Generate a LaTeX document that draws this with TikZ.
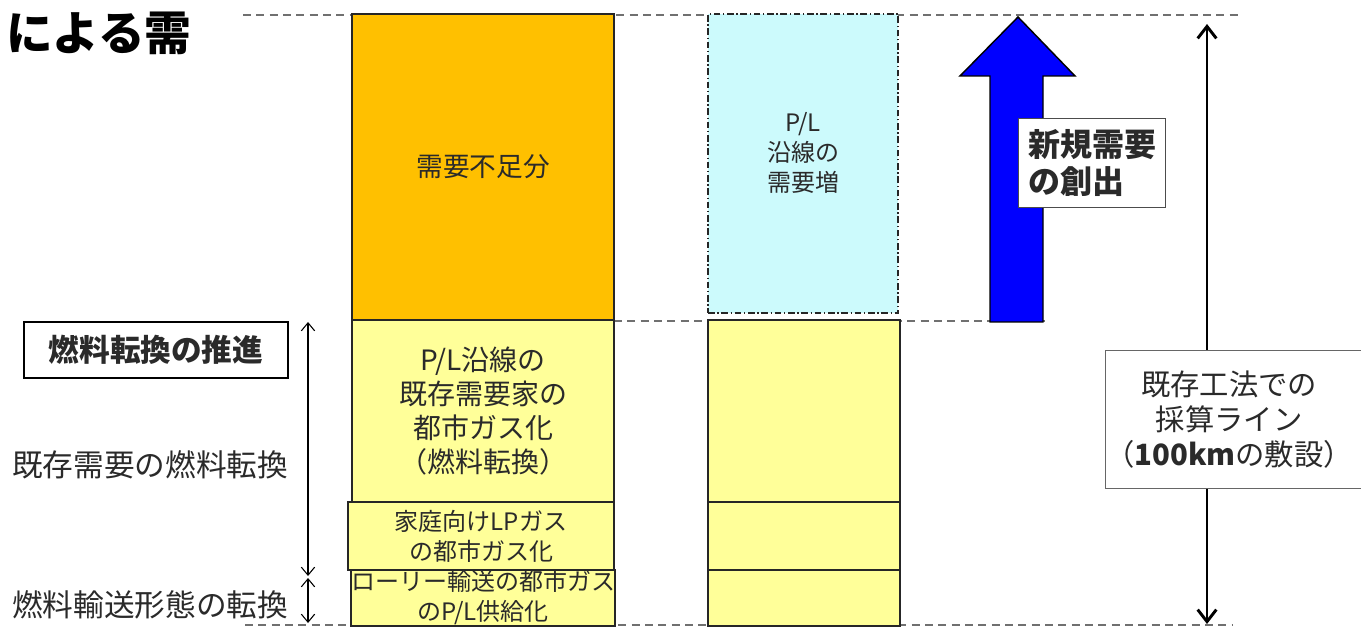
\documentclass[tikz,border=0pt]{standalone}
\usepackage{fontspec}
\setmainfont{Noto Sans CJK JP}
\usetikzlibrary{arrows.meta}
\definecolor{orangebox}{HTML}{FFC000}
\definecolor{yellowbox}{HTML}{FFFF99}
\definecolor{cyanbox}{HTML}{CCFAFC}
\definecolor{txt}{HTML}{2A2A2A}
\definecolor{dashgray}{HTML}{707070}
\definecolor{bluearrow}{HTML}{0000FF}
\begin{document}
\begin{tikzpicture}[x=0.75pt,y=-0.75pt,
  guide/.style={draw=dashgray, line width=1.5pt, dash pattern=on 6pt off 4pt},
  barbox/.style={draw=black!85, line width=0.9pt, inner sep=0pt, text=txt, align=center},
  col1/.style={barbox, minimum width=196.5pt},
  col2/.style={barbox, minimum width=144pt},
  bigtxt/.style={font=\fontsize{21}{25.5}\selectfont},
  smalltxt/.style={font=\fontsize{18}{22.5}\selectfont},
  lbl/.style={text=txt, inner sep=0pt, font=\fontsize{23}{26}\selectfont},
  span/.style={draw=black, line width=0.8pt, {Straight Barb[length=6pt,width=10pt]}-{Straight Barb[length=6pt,width=10pt]}},
]
\useasboundingbox (0,0) rectangle (1361,627);

% title fragment
\node[anchor=west, inner sep=0pt, font=\fontsize{35}{40}\bfseries\selectfont] (title) at (6,33) {による需};

% guide lines
\draw[guide] (243,15) -- (1240,15);
\draw[guide] (614,321) -- (1045,321);
\draw[guide] (245,625) -- (1233,625);

% column 1
\node[col1, fill=orangebox, minimum height=229.5pt, font=\fontsize{20}{24}\selectfont] (shortfall) at (483,167) {需要不足分};
\node[col1, fill=yellowbox, minimum height=136.5pt, bigtxt] (conv) at (483,411) {P/L沿線の\\既存需要家の\\都市ガス化\\（燃料転換）};
\node[barbox, fill=yellowbox, minimum width=199.5pt, minimum height=51pt, smalltxt] (lpg) at (481,536) {家庭向けLPガス\\の都市ガス化};
\node[col1, fill=yellowbox, minimum height=42pt, smalltxt] (lorry) at (483,598) {ローリー輸送の都市ガス\\のP/L供給化};

% column 2
\node[col2, fill=cyanbox, minimum width=142.5pt, minimum height=224.25pt, dash pattern=on 5pt off 2pt on 1pt off 2pt] (increase) at (803,163.5) {};
\node[text=txt, align=center, smalltxt, inner sep=0pt] (increasetxt) at (803,153) {P/L\\沿線の\\需要増};
\node[col2, fill=yellowbox, minimum height=136.5pt] (c2a) at (804,411) {};
\node[col2, fill=yellowbox, minimum height=51pt] (c2b) at (804,536) {};
\node[col2, fill=yellowbox, minimum height=42pt] (c2c) at (804,598) {};

% blue arrow
\draw[fill=bluearrow, draw=black, line width=1.1pt, line join=miter]
  (990,322) -- (990,76) -- (960,76) -- (1018,17) -- (1075,76) -- (1043,76) -- (1043,322) -- cycle;
\node[draw=black!70, fill=white, line width=0.9pt, anchor=north west, minimum width=110.25pt, minimum height=66.75pt,
  align=left, inner xsep=7pt, font=\fontsize{24}{28}\bfseries\selectfont, text=txt] (newdemand) at (1018,118) {新規需要\\の創出};

% right span arrow
\coordinate (rtop) at (1207,24);
\coordinate (rbot) at (1207,624);
\draw[line width=2.2pt, {Straight Barb[length=9pt,width=14pt]}-{Straight Barb[length=9pt,width=14pt]}] (rtop) -- (rbot);
\node[draw=black!60, fill=white, line width=0.9pt, minimum width=198.75pt, minimum height=103.5pt, anchor=north west,
  inner sep=0pt] (linebox) at (1105,350) {};
\node[lbl, align=center, font=\fontsize{22}{26.25}\selectfont] (linetxt) at (1229,420) {既存工法での\\採算ライン\\（\textbf{100km}の敷設）};

% left labels
\node[draw=black, line width=1pt, minimum width=198pt, minimum height=42pt, inner sep=0pt,
  font=\fontsize{23}{26}\bfseries\selectfont, text=txt] (promo) at (156,350) {燃料転換の推進};
\node[lbl, anchor=west] (existing) at (12,465) {既存需要の燃料転換};
\node[lbl, anchor=west] (transport) at (12,605) {燃料輸送形態の転換};
\coordinate (a1) at (308,322);
\coordinate (a2) at (308,576);
\coordinate (a3) at (308,578);
\coordinate (a4) at (308,623);
\draw[span] (a1) -- (a2);
\draw[span] (a3) -- (a4);
\end{tikzpicture}
\end{document}
